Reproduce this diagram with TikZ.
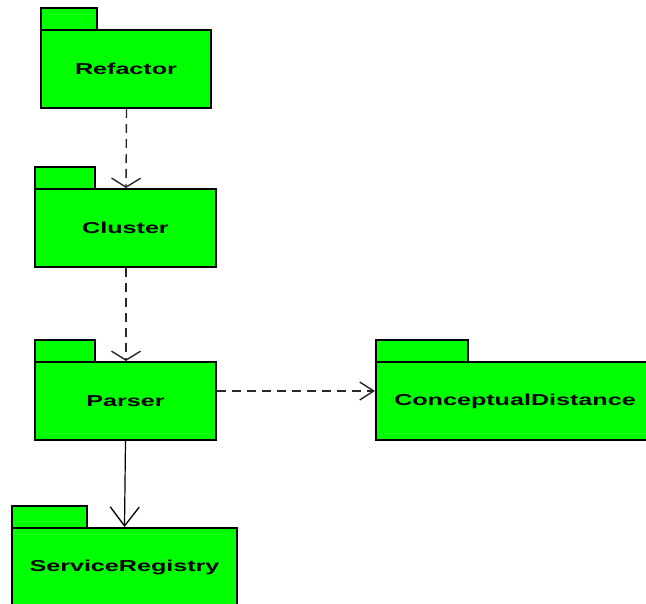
\documentclass[tikz,border=0pt]{standalone}
\usepackage{fontspec}
\newfontfamily\lblfont{Liberation Sans Bold}[FakeStretch=1.59]
\usetikzlibrary{arrows.meta}
\tikzset{
  pkgbody/.style={draw=black, line width=2pt, fill=pkggreen, rectangle, inner sep=0pt,
    font=\lblfont\fontsize{15.8}{18}\selectfont, text=black},
  pkgtab/.style={draw=black, line width=2pt, fill=pkggreen},
  dep/.style={draw=depgray, line width=1.4pt, dash pattern=on 9pt off 6pt},
  assoc/.style={draw=black, line width=1.2pt},
}
\definecolor{pkggreen}{RGB}{0,255,0}
\definecolor{depgray}{RGB}{40,40,40}
\begin{document}
\begin{tikzpicture}[x=1pt,y=-1pt]
\clip (0,0) rectangle (646,604);
\fill[white] (0,0) rectangle (646,604);
% tabs
\draw[pkgtab] (41,8) rectangle (97,30);
\draw[pkgtab] (35,167) rectangle (95,189);
\draw[pkgtab] (35,340) rectangle (95,362);
\draw[pkgtab] (376,340) rectangle (468,362);
\draw[pkgtab] (12,506) rectangle (87,528);
% bodies
\node[pkgbody, minimum width=170pt, minimum height=78pt] (ref) at (126,69) {Refactor};
\node[pkgbody, minimum width=181pt, minimum height=78pt] (clu) at (125.5,228) {Cluster};
\node[pkgbody, minimum width=181pt, minimum height=78pt] (par) at (125.5,401) {Parser};
\node[pkgbody, minimum width=278pt, minimum height=78pt] (cd) at (515,401) {ConceptualDistance};
\node[pkgbody, minimum width=225pt, minimum height=78pt] (sr) at (124.5,567) {ServiceRegistry};
% connectors
\draw[dep, -{Straight Barb[length=9pt,width=29pt,line width=1.4pt]}] ([xshift=0.5pt]ref.south) -- ([xshift=0.5pt]clu.north);
\draw[dep, -{Straight Barb[length=9pt,width=29pt,line width=1.4pt]}] ([xshift=0.5pt]clu.south) -- ([xshift=0.5pt]par.north);
\draw[dep, -{Straight Barb[length=14pt,width=18pt,line width=1.4pt]}] ([yshift=10pt]par.east) -- ([yshift=10pt]cd.west);
\draw[assoc, -{Straight Barb[length=19pt,width=29pt,line width=1.3pt]}] (par.south) -- (sr.north);
\end{tikzpicture}
\end{document}
